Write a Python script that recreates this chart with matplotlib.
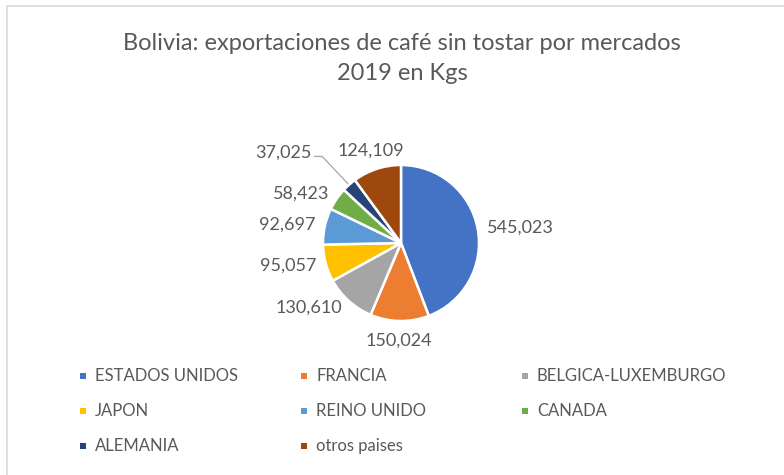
import numpy as np
import matplotlib.pyplot as plt
from matplotlib.patches import Rectangle

# Datos: exportaciones de café sin tostar por mercado, 2019 (kg)
mercados = ["ESTADOS UNIDOS", "FRANCIA", "BELGICA-LUXEMBURGO", "JAPON",
            "REINO UNIDO", "CANADA", "ALEMANIA", "otros paises"]
kgs = [545023, 150024, 130610, 95057, 92697, 58423, 37025, 124109]
colores = ["#4472C4", "#ED7D31", "#A5A5A5", "#FFC000",
           "#5B9BD5", "#70AD47", "#264478", "#9E480E"]

gris = "#595959"
plt.rcParams['font.family'] = ['Lato', 'DejaVu Sans']

W, H = 784, 475
fig = plt.figure(figsize=(W / 100, H / 100), dpi=100)

# marco del gráfico
fig.patches.append(Rectangle((7 / W, -0.01), 1.05, 1 - 6 / H + 0.01,
                             transform=fig.transFigure, fill=False,
                             edgecolor="#D9D9D9", lw=1.2))

fig.text(402 / W, 1 - 43 / H, "Bolivia: exportaciones de café sin tostar por mercados",
         ha='center', va='center', fontsize=17, color=gris)
fig.text(402 / W, 1 - 73 / H, "2019 en Kgs", ha='center', va='center',
         fontsize=17, color=gris)

# ejes del pastel (radio 78 px, centro en 401,243)
cx, cy, r = 401, 243, 78
ax = fig.add_axes([(cx - r) / W, (H - cy - r) / H, 2 * r / W, 2 * r / H])
wedges, _ = ax.pie(kgs, colors=colores, startangle=90, counterclock=False,
                   radius=1, wedgeprops=dict(edgecolor='white', linewidth=1.8))
ax.set_xlim(-1, 1)
ax.set_ylim(-1, 1)
ax.axis('off')

fs = 13
for i, (w, v) in enumerate(zip(wedges, kgs)):
    ang = np.deg2rad((w.theta1 + w.theta2) / 2)
    x, y = np.cos(ang), np.sin(ang)
    txt = f"{v:,}"
    if mercados[i] == "ALEMANIA":
        # etiqueta con línea guía
        tx, ty = -1.15, 1.11
        ax.text(tx, ty + 0.05, txt, ha='right', va='center', fontsize=fs,
                color=gris, clip_on=False)
        ax.plot([tx + 0.04, tx + 0.14, 0.9 * x], [ty, ty, 0.9 * y],
                color='#A6A6A6', lw=0.9, clip_on=False, zorder=0)
        continue
    d = 1.12
    if abs(x) < 0.35:
        ha = 'center'
        d = 1.25
    elif x > 0:
        ha = 'left'
    else:
        ha = 'right'
    ax.text(d * x, d * y, txt, ha=ha, va='center', fontsize=fs, color=gris,
            clip_on=False)

# leyenda en tres columnas
for i, (m, c) in enumerate(zip(mercados, colores)):
    fila, col = divmod(i, 3)
    xm = (83 + col * 221) / W
    ym = 1 - (376 + fila * 35) / H
    fig.patches.append(Rectangle((xm - 3 / W, ym - 3 / H), 6 / W, 6 / H,
                                 transform=fig.transFigure, color=c, lw=0))
    fig.text(xm + 12 / W, ym, m, ha='left', va='center', fontsize=12, color=gris)

fig.savefig("out.png", dpi=100, facecolor='white')
